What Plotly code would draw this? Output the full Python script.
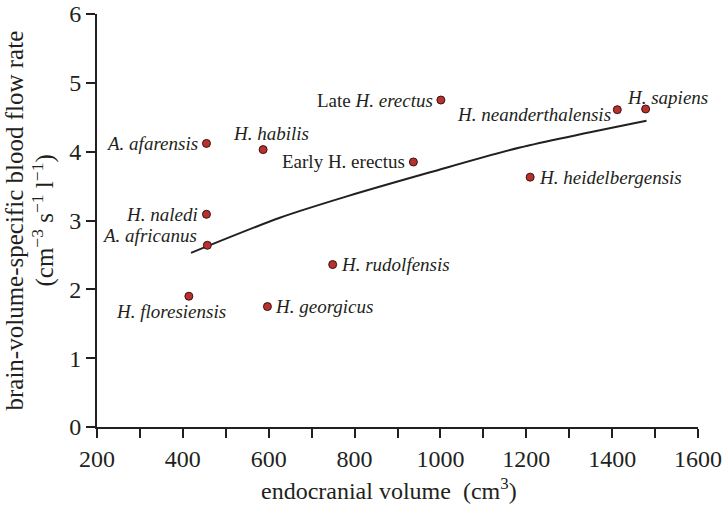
import plotly.graph_objects as go

# species data (endocranial volume cm^3, brain-volume-specific blood flow rate)
species = ["A. afarensis", "H. habilis", "H. naledi", "A. africanus", "H. floresiensis",
           "H. georgicus", "H. rudolfensis", "Early H. erectus", "Late H. erectus",
           "H. neanderthalensis", "H. sapiens", "H. heidelbergensis"]
labels = ["<i>A. afarensis</i>", "<i>H. habilis</i>", "<i>H. naledi</i>", "<i>A. africanus</i>",
          "<i>H. floresiensis</i>", "<i>H. georgicus</i>", "<i>H. rudolfensis</i>",
          "Early H. erectus", "Late <i>H. erectus</i>", "<i>H. neanderthalensis</i>",
          "<i>H. sapiens</i>", "<i>H. heidelbergensis</i>"]
volume = [455, 587, 455, 457, 414, 597, 749, 937, 1001, 1412, 1478, 1209]
flow = [4.12, 4.03, 3.09, 2.64, 1.90, 1.75, 2.36, 3.85, 4.75, 4.61, 4.62, 3.63]

# fitted curve
fit_x = [419, 626, 782, 976, 1185, 1480]
fit_y = [2.53, 3.04, 3.35, 3.70, 4.06, 4.45]

x_tickvals = list(range(200, 1700, 100))
x_ticktext = [str(v) if v % 200 == 0 else "" for v in x_tickvals]
y_tickvals = [0, 1, 2, 3, 4, 5, 6]

x_title = "endocranial volume  (cm<sup>3</sup>)"
y_title_1 = "brain-volume-specific blood flow rate"
y_title_2 = "(cm<sup>\u22123</sup> s<sup>\u22121</sup> l<sup>\u22121</sup>)"

# label placement (anchor, xshift, yshift) in pixels
label_pos = [("right", -6, 0), ("center", 8, 16), ("right", -6, 0), ("right", -8, 10),
             ("center", -18, -15), ("left", 6, 0), ("left", 6, 0), ("right", -6, 0),
             ("right", -6, 0), ("right", -4, -5), ("left", -21, 11), ("left", 7, 0)]

FONT = "Liberation Serif, Times New Roman, serif"
INK = "#231f20"

fig = go.Figure()
fig.add_trace(go.Scatter(x=fit_x, y=fit_y, mode="lines",
                         line=dict(color=INK, width=2, shape="spline", smoothing=0.8),
                         hoverinfo="skip", showlegend=False))
fig.add_trace(go.Scatter(x=volume, y=flow, mode="markers", text=species,
                         marker=dict(size=8, color="#b8312f", line=dict(color="#3a1212", width=1)),
                         showlegend=False))

for v, f, lab, (anc, xs, ys) in zip(volume, flow, labels, label_pos):
    fig.add_annotation(x=v, y=f, xref="x", yref="y", text=lab, showarrow=False,
                       xanchor=anc, yanchor="middle", xshift=xs, yshift=ys,
                       font=dict(family=FONT, size=19, color=INK))

# axis titles
fig.add_annotation(x=0.5, y=0, xref="paper", yref="paper", text=x_title, showarrow=False,
                   xanchor="center", yanchor="middle", xshift=-9, yshift=-62,
                   font=dict(family=FONT, size=24, color=INK))
fig.add_annotation(x=0, y=0.5, xref="paper", yref="paper", text=y_title_1, showarrow=False,
                   textangle=-90, xanchor="center", yanchor="middle", xshift=-83,
                   font=dict(family=FONT, size=25, color=INK))
fig.add_annotation(x=0, y=0.5, xref="paper", yref="paper", text=y_title_2, showarrow=False,
                   textangle=-90, xanchor="center", yanchor="middle", xshift=-54,
                   font=dict(family=FONT, size=25, color=INK))

fig.update_layout(
    width=723, height=505,
    margin=dict(l=97, r=25, t=14, b=78, autoexpand=False),
    paper_bgcolor="white", plot_bgcolor="white",
    font=dict(family=FONT, color=INK),
    xaxis=dict(range=[200, 1600], tickvals=x_tickvals, ticktext=x_ticktext, automargin=False,
               ticks="outside", ticklen=9, tickwidth=2, tickcolor=INK, ticklabeloverflow="allow",
               showline=True, linecolor=INK, linewidth=2, showgrid=False, zeroline=False,
               tickfont=dict(family=FONT, size=24, color=INK)),
    yaxis=dict(range=[0, 6], tickvals=y_tickvals, automargin=False,
               ticks="outside", ticklen=9, tickwidth=2, tickcolor=INK, ticklabeloverflow="allow",
               showline=True, linecolor=INK, linewidth=2, showgrid=False, zeroline=False,
               tickfont=dict(family=FONT, size=24, color=INK)),
)

fig.write_html("out.html", config={"displayModeBar": False, "staticPlot": True},
               post_script="document.body.style.margin='0';document.body.style.overflow='hidden';")
